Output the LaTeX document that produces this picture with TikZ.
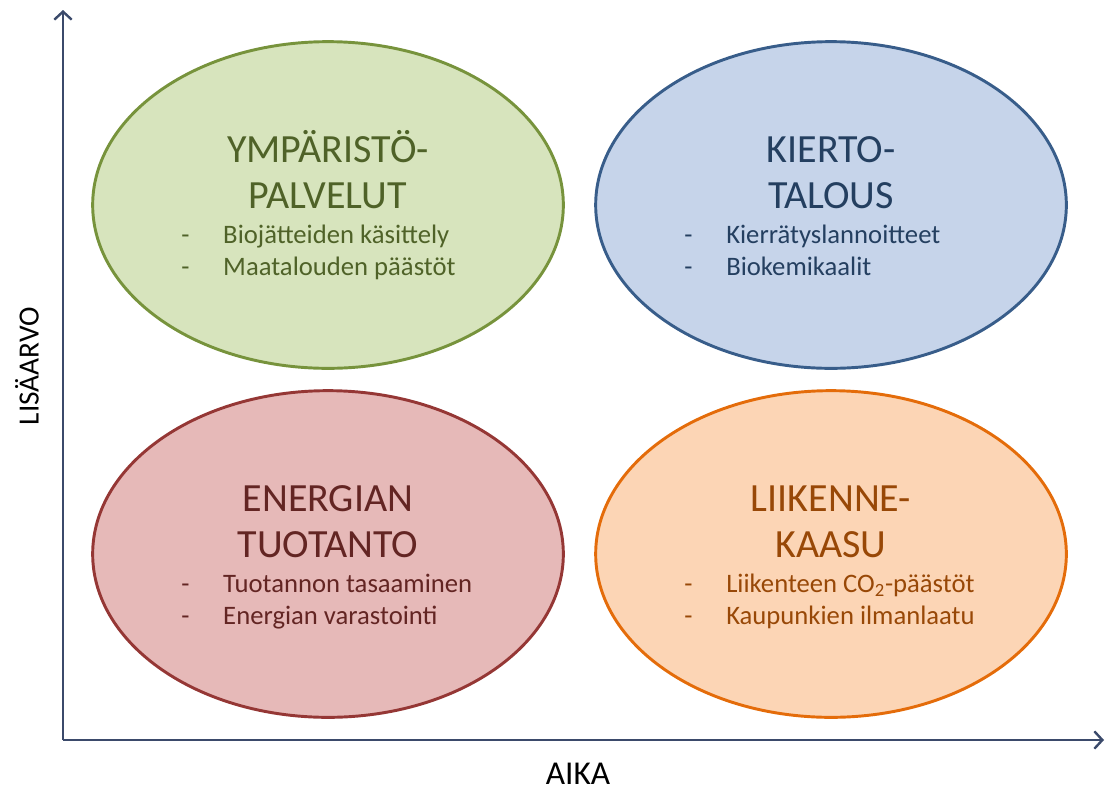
\documentclass[tikz,border=0pt]{standalone}
\usepackage{fontspec}
\setmainfont{Carlito}
\usetikzlibrary{positioning}
\usetikzlibrary{calc}
\usetikzlibrary{shapes.geometric}
\usetikzlibrary{arrows.meta}

\definecolor{akselisin}{HTML}{3B4A6B}
\definecolor{vihrea}{HTML}{77933C}
\definecolor{vihreaF}{HTML}{D7E4BD}
\definecolor{vihreaT}{HTML}{4F6228}
\definecolor{sininen}{HTML}{385D8A}
\definecolor{sininenF}{HTML}{C6D4EA}
\definecolor{sininenT}{HTML}{243F60}
\definecolor{punainen}{HTML}{953735}
\definecolor{punainenF}{HTML}{E6B9B8}
\definecolor{punainenT}{HTML}{632523}
\definecolor{oranssi}{HTML}{E46C0A}
\definecolor{oranssiF}{HTML}{FCD5B5}
\definecolor{oranssiT}{HTML}{984807}

\newcommand{\viiva}[1]{\makebox[31.5pt][l]{-}#1}

\begin{document}
\begin{tikzpicture}[x=0.75pt, y=-0.75pt,
kupla/.style={ellipse, line width=2.2pt, minimum width=353pt, minimum height=245pt, inner sep=0pt},
otsikko/.style={anchor=base, inner sep=0pt, font=\fontsize{30}{34}\selectfont},
kohta/.style={anchor=base west, inner sep=0pt, font=\fontsize{20}{24}\selectfont},
akseli/.style={draw=akselisin, line width=1.8pt, -{Straight Barb[length=6pt,width=13pt]}},]

\useasboundingbox (0,0) rectangle (1105,793);

% akselit
\coordinate (O) at (63,740);
\coordinate (Ymax) at (63,10);
\coordinate (Xmax) at (1104,740);
\draw[akseli] (O) -- (Ymax);
\draw[akseli] (O) -- (Xmax);
\node[rotate=90, inner sep=0pt, font=\fontsize{22}{26}\selectfont] (lisaarvo) at (27,366) {LISÄARVO};
\node[anchor=base, inner sep=0pt, font=\fontsize{25}{29}\selectfont] (aika) at (578,784) {AIKA};

% ympäristöpalvelut
\node[kupla, draw=vihrea, fill=vihreaF] (ymp) at (328,205) {};
\node[otsikko, text=vihreaT] (ymp_1) at ($(ymp)+(0,-43)$) {YMPÄRISTÖ-};
\node[otsikko, text=vihreaT] (ymp_2) at ($(ymp)+(0,3)$) {PALVELUT};
\node[kohta, text=vihreaT] (ymp_3) at ($(ymp)+(-147,38)$) {\viiva{Biojätteiden käsittely}};
\node[kohta, text=vihreaT] (ymp_4) at ($(ymp)+(-147,70)$) {\viiva{Maatalouden päästöt}};

% kiertotalous
\node[kupla, draw=sininen, fill=sininenF] (kierto) at (831,205) {};
\node[otsikko, text=sininenT] (kierto_1) at ($(kierto)+(0,-43)$) {KIERTO-};
\node[otsikko, text=sininenT] (kierto_2) at ($(kierto)+(0,3)$) {TALOUS};
\node[kohta, text=sininenT] (kierto_3) at ($(kierto)+(-147,38)$) {\viiva{Kierrätyslannoitteet}};
\node[kohta, text=sininenT] (kierto_4) at ($(kierto)+(-147,70)$) {\viiva{Biokemikaalit}};

% energian tuotanto
\node[kupla, draw=punainen, fill=punainenF] (energia) at (328,554) {};
\node[otsikko, text=punainenT] (energia_1) at ($(energia)+(0,-43)$) {ENERGIAN};
\node[otsikko, text=punainenT] (energia_2) at ($(energia)+(0,3)$) {TUOTANTO};
\node[kohta, text=punainenT] (energia_3) at ($(energia)+(-147,38)$) {\viiva{Tuotannon tasaaminen}};
\node[kohta, text=punainenT] (energia_4) at ($(energia)+(-147,70)$) {\viiva{Energian varastointi}};

% liikennekaasu
\node[kupla, draw=oranssi, fill=oranssiF] (liikenne) at (831,554) {};
\node[otsikko, text=oranssiT] (liikenne_1) at ($(liikenne)+(0,-43)$) {LIIKENNE-};
\node[otsikko, text=oranssiT] (liikenne_2) at ($(liikenne)+(0,3)$) {KAASU};
\node[kohta, text=oranssiT] (liikenne_3) at ($(liikenne)+(-147,38)$) {\viiva{Liikenteen CO\textsubscript{2}-päästöt}};
\node[kohta, text=oranssiT] (liikenne_4) at ($(liikenne)+(-147,70)$) {\viiva{Kaupunkien ilmanlaatu}};

\end{tikzpicture}
\end{document}
